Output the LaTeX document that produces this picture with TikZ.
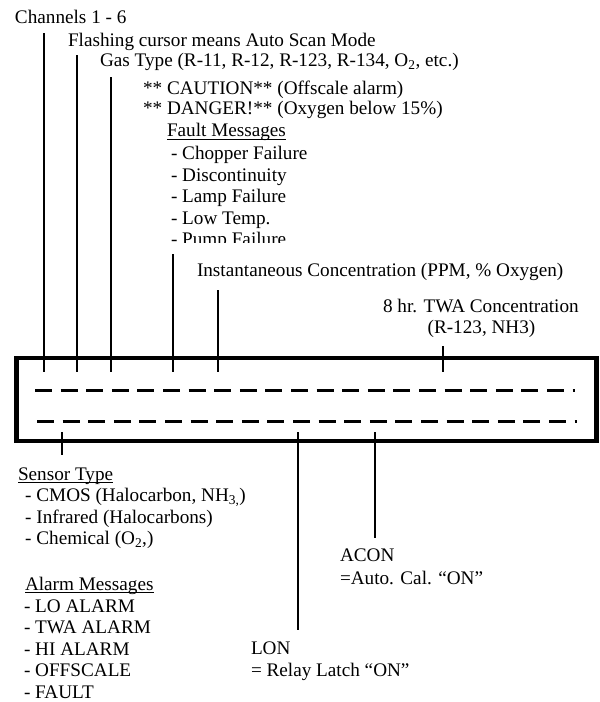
\documentclass[tikz,border=0pt]{standalone}
\usepackage{fontspec}
\setmainfont{Liberation Serif}
\begin{document}
\begin{tikzpicture}[x=1pt,y=-1pt,
  lbl/.style={anchor=base west, inner sep=0pt, outer sep=0pt, font=\fontsize{19.2}{21.5}\selectfont},
  clbl/.style={lbl, anchor=base},
  ptr/.style={line width=2.6pt},
  frame/.style={draw, line width=4.5pt, inner sep=0pt, outer sep=0pt},
  dsh/.style={line width=3pt, dash pattern=on 17pt off 8.6pt},
  ul/.style={line width=1pt}]
\useasboundingbox (0,0) rectangle (600,702);

% top labels
\node[lbl] (ch) at (15,23) {Channels 1 - 6};
\node[lbl] (fl) at (68,46) {Flashing cursor means Auto Scan Mode};
\node[lbl] (gas) at (100,66) {Gas Type (R-11, R-12, R-123, R-134, O\textsubscript{2}, etc.)};
\node[lbl] (cau) at (143,94) {** CAUTION** (Offscale alarm)};
\node[lbl] (dan) at (143,114) {** DANGER!** (Oxygen below 15\%)};
\node[lbl] (fm) at (167,136.5) {Fault Messages};
\draw[ul] ([yshift=-2.5pt]fm.base west) -- ([yshift=-2.5pt]fm.base east);
\node[lbl] (f1) at (171,159) {- Chopper Failure};
\node[lbl] (f2) at (171,181) {- Discontinuity};
\node[lbl] (f3) at (171,202.5) {- Lamp Failure};
\node[lbl] (f4) at (171,224) {- Low Temp.};
\begin{scope}
  \clip (160,228) rectangle (400,242);
  \node[lbl] (f5) at (171,245.5) {- Pump Failure};
\end{scope}
\node[lbl] (inst) at (197,276) {Instantaneous Concentration (PPM, \% Oxygen)};
\node[lbl] (tw1) at (383,312) {8 hr. TWA Concentration};
\node[clbl] (tw2) at (481.5,333.5) {(R-123, NH3)};

% display box
\node[frame, minimum width=580pt, minimum height=83pt] (disp) at (306.5,399.5) {};
\draw[dsh] (35,390.5) -- (575,390.5);
\draw[dsh] (37,421.5) -- (577,421.5);

% pointer coordinates
\coordinate (a1) at (44,33);   \coordinate (b1) at (44,372);
\coordinate (a2) at (77,55);   \coordinate (b2) at (77,372);
\coordinate (a3) at (111,77);  \coordinate (b3) at (111,372);
\coordinate (a4) at (173,254); \coordinate (b4) at (173,372);
\coordinate (a5) at (218,290); \coordinate (b5) at (218,372);
\coordinate (a6) at (443,346); \coordinate (b6) at (443,372);
\draw[ptr] (a1) -- (b1);
\draw[ptr] (a2) -- (b2);
\draw[ptr] (a3) -- (b3);
\draw[ptr] (a4) -- (b4);
\draw[ptr] (a5) -- (b5);
\draw[ptr] (a6) -- (b6);

\coordinate (c1) at (62,432);  \coordinate (d1) at (62,455);
\coordinate (c2) at (298,432); \coordinate (d2) at (298,630);
\coordinate (c3) at (375,432); \coordinate (d3) at (375,538);
\draw[ptr] (c1) -- (d1);
\draw[ptr] (c2) -- (d2);
\draw[ptr] (c3) -- (d3);

% bottom labels
\node[lbl] (st) at (18,480) {Sensor Type};
\draw[ul] ([yshift=-2.5pt]st.base west) -- ([yshift=-2.5pt]st.base east);
\node[lbl] (s1) at (22,501.5) {\,- CMOS (Halocarbon, NH\textsubscript{3,})};
\node[lbl] (s2) at (22,523) {\,- Infrared (Halocarbons)};
\node[lbl] (s3) at (22,544.5) {\,- Chemical (O\textsubscript{2},)};
\node[lbl] (am) at (25,590) {Alarm Messages};
\draw[ul] ([yshift=-2.5pt]am.base west) -- ([yshift=-2.5pt]am.base east);
\node[lbl] (m1) at (24,612) {- LO ALARM};
\node[lbl] (m2) at (24,633.5) {- TWA ALARM};
\node[lbl] (m3) at (24,655) {- HI ALARM};
\node[lbl] (m4) at (24,676.5) {- OFFSCALE};
\node[lbl] (m5) at (24,698) {- FAULT};

\node[lbl] (acon) at (340,561) {ACON};
\node[lbl] (acon2) at (340,584) {=Auto. Cal. “ON”};
\node[lbl] (lon) at (251,654) {LON};
\node[lbl] (lon2) at (251,676) {= Relay Latch “ON”};
\end{tikzpicture}
\end{document}
